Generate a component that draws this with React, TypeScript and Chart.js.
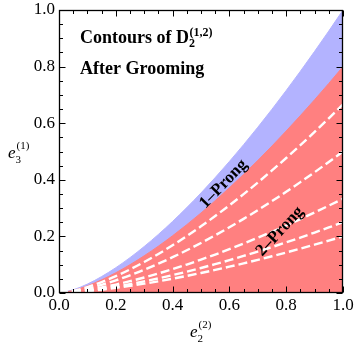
import { useEffect, useRef } from "react";
import { Chart, registerables } from "chart.js";

Chart.register(...registerables);

// Sample positions along e2^(2)
const xValues = [0, 0.05, 0.1, 0.15, 0.2, 0.25, 0.3, 0.35, 0.4, 0.45, 0.5, 0.55, 0.6, 0.65, 0.7, 0.75, 0.8, 0.85, 0.9, 0.95, 1];

// Upper edge of the 1-prong (blue) region
const oneProngUpper = [0, 0.0112, 0.0316, 0.0581, 0.0894, 0.125, 0.1643, 0.2071, 0.253, 0.3019, 0.3536, 0.4079, 0.4648, 0.5241, 0.5857, 0.6495, 0.7155, 0.7837, 0.8538, 0.9259, 1];
// Upper edge of the 2-prong (red) region
const twoProngUpper = [0, 0.0089, 0.0253, 0.0465, 0.0716, 0.1, 0.1315, 0.1656, 0.2024, 0.2415, 0.2828, 0.3263, 0.3718, 0.4192, 0.4685, 0.5196, 0.5724, 0.6269, 0.683, 0.7407, 0.8];

// Dashed contours of D2^(1,2)
const contourA = [0, 0.0075, 0.0211, 0.0387, 0.0596, 0.0833, 0.1095, 0.138, 0.1687, 0.2012, 0.2357, 0.2719, 0.3098, 0.3494, 0.3904, 0.433, 0.477, 0.5224, 0.5692, 0.6173, 0.6667];
const contourB = [0, 0.0056, 0.0158, 0.029, 0.0447, 0.0625, 0.0822, 0.1035, 0.1265, 0.1509, 0.1768, 0.2039, 0.2324, 0.262, 0.2928, 0.3248, 0.3578, 0.3918, 0.4269, 0.463, 0.5];
const contourC = [0, 0.0037, 0.0105, 0.0194, 0.0298, 0.0417, 0.0548, 0.069, 0.0843, 0.1006, 0.1179, 0.136, 0.1549, 0.1747, 0.1952, 0.2165, 0.2385, 0.2612, 0.2846, 0.3086, 0.3333];
const contourD = [0, 0.0028, 0.0079, 0.0145, 0.0224, 0.0313, 0.0411, 0.0518, 0.0632, 0.0755, 0.0884, 0.102, 0.1162, 0.131, 0.1464, 0.1624, 0.1789, 0.1959, 0.2135, 0.2315, 0.25];
const contourE = [0, 0.0022, 0.0063, 0.0116, 0.0179, 0.025, 0.0329, 0.0414, 0.0506, 0.0604, 0.0707, 0.0816, 0.093, 0.1048, 0.1171, 0.1299, 0.1431, 0.1567, 0.1708, 0.1852, 0.2];
const contours = [contourA, contourB, contourC, contourD, contourE];

const majorTicks = [0, 0.2, 0.4, 0.6, 0.8, 1];
const minorTicks = [0, 0.05, 0.1, 0.15, 0.2, 0.25, 0.3, 0.35, 0.4, 0.45, 0.5, 0.55, 0.6, 0.65, 0.7, 0.75, 0.8, 0.85, 0.9, 0.95, 1];

const regionLabels = [
  { text: "1\u2013Prong", x: 0.579, y: 0.385, angle: -46 },
  { text: "2\u2013Prong", x: 0.778, y: 0.218, angle: -47 },
];

const titleLines = ["Contours of ", "After Grooming"];
const titlePos = { x: 0.074, y1: 0.884, y2: 0.774 };

const BLUE = "#b3b3ff";
const RED = "#ff8080";
const SERIF = "'Liberation Serif', 'Times New Roman', serif";

const toPoints = (ys: number[]) => xValues.map((x, i) => ({ x, y: ys[i] }));

const decorPlugin = {
  id: "decor",
  afterDraw(chart: any) {
    const { ctx, chartArea: a, scales } = chart;
    const sx = scales.x;
    const sy = scales.y;
    ctx.save();
    ctx.strokeStyle = "#000";
    ctx.lineWidth = 1;
    const L = Math.round(a.left) + 0.5;
    const R = Math.round(a.right) - 0.5;
    const T = Math.round(a.top) + 0.5;
    const B = Math.round(a.bottom) - 0.5;
    ctx.beginPath();
    for (const t of minorTicks) {
      const major = majorTicks.some((m) => Math.abs(m - t) < 1e-9);
      const len = major ? 6 : 3.5;
      const px = Math.round(sx.getPixelForValue(t)) + 0.5;
      ctx.moveTo(px, B); ctx.lineTo(px, B - len);
      ctx.moveTo(px, T); ctx.lineTo(px, T + len);
      const py = Math.round(sy.getPixelForValue(t)) + 0.5;
      ctx.moveTo(L, py); ctx.lineTo(L + len, py);
      ctx.moveTo(R, py); ctx.lineTo(R - len, py);
    }
    ctx.stroke();
    ctx.lineWidth = 1.3;
    ctx.strokeRect(L, T, R - L, B - T);

    // Title
    ctx.fillStyle = "#000";
    ctx.textAlign = "left";
    ctx.textBaseline = "alphabetic";
    const tx = sx.getPixelForValue(titlePos.x);
    const ty1 = sy.getPixelForValue(titlePos.y1);
    const ty2 = sy.getPixelForValue(titlePos.y2);
    ctx.font = `bold 18px ${SERIF}`;
    ctx.fillText(titleLines[0], tx, ty1);
    let cx = tx + ctx.measureText(titleLines[0]).width;
    ctx.fillText("D", cx, ty1);
    cx += ctx.measureText("D").width;
    ctx.font = `bold 12px ${SERIF}`;
    ctx.fillText("2", cx, ty1 + 4.5);
    ctx.fillText("(1,2)", cx + 0.5, ty1 - 7);
    ctx.font = `bold 18px ${SERIF}`;
    ctx.fillText(titleLines[1], tx, ty2);

    // Region labels
    ctx.font = `bold 17px ${SERIF}`;
    ctx.textAlign = "center";
    ctx.textBaseline = "middle";
    for (const lab of regionLabels) {
      ctx.save();
      ctx.translate(sx.getPixelForValue(lab.x), sy.getPixelForValue(lab.y));
      ctx.rotate((lab.angle * Math.PI) / 180);
      ctx.fillText(lab.text, 0, 0);
      ctx.restore();
    }

    // Axis titles
    const drawSym = (x0: number, base: number, sub: string, sup: string) => {
      ctx.textAlign = "left";
      ctx.textBaseline = "alphabetic";
      ctx.font = `italic 17px ${SERIF}`;
      ctx.fillText("e", x0, base);
      const w = ctx.measureText("e").width;
      ctx.font = `11px ${SERIF}`;
      ctx.fillText(sub, x0 + w, base + 5);
      ctx.fillText(sup, x0 + w + 1, base - 9);
    };
    const midX = (a.left + a.right) / 2;
    drawSym(midX - 11, a.bottom + 44, "2", "(2)");
    drawSym(a.left - 51, (a.top + a.bottom) / 2 + 6, "3", "(1)");
    ctx.restore();
  },
};

const fixFit = (size: { width?: number; height?: number }) => (s: any) => {
  if (size.width !== undefined) s.width = size.width;
  if (size.height !== undefined) s.height = size.height;
  s.paddingTop = 0;
  s.paddingBottom = 0;
  s.paddingLeft = 0;
  s.paddingRight = 0;
};

export default function App() {
  const ref = useRef<HTMLCanvasElement | null>(null);
  useEffect(() => {
    if (!ref.current) return;
    const dashed = contours.map((c) => ({
      data: toPoints(c),
      borderColor: "#ffffff",
      borderWidth: 2.4,
      borderDash: [9, 4],
      fill: false,
      pointRadius: 0,
      cubicInterpolationMode: "monotone" as const,
      order: 1,
    }));
    const chart = new Chart(ref.current, {
      type: "line",
      data: {
        datasets: [
          ...dashed,
          {
            data: toPoints(twoProngUpper),
            borderColor: RED,
            backgroundColor: RED,
            borderWidth: 1,
            fill: "origin",
            pointRadius: 0,
            cubicInterpolationMode: "monotone",
            order: 2,
          },
          {
            data: toPoints(oneProngUpper),
            borderColor: BLUE,
            backgroundColor: BLUE,
            borderWidth: 1,
            fill: "origin",
            pointRadius: 0,
            cubicInterpolationMode: "monotone",
            order: 3,
          },
        ],
      } as any,
      options: {
        animation: false,
        responsive: false,
        layout: { padding: { left: 0, top: 10, right: 11, bottom: 0 } },
        plugins: { legend: { display: false }, tooltip: { enabled: false } },
        scales: {
          x: {
            type: "linear",
            min: 0,
            max: 1,
            grid: { display: false, drawTicks: false },
            border: { display: false },
            ticks: {
              stepSize: 0.2,
              autoSkip: false,
              maxRotation: 0,
              padding: 2,
              color: "#000",
              font: { family: SERIF, size: 17 },
              callback: (v: any) => Number(v).toFixed(1),
            },
            afterFit: fixFit({ height: 52 }),
          },
          y: {
            type: "linear",
            min: 0,
            max: 1,
            grid: { display: false, drawTicks: false },
            border: { display: false },
            ticks: {
              stepSize: 0.2,
              autoSkip: false,
              padding: 4,
              color: "#000",
              font: { family: SERIF, size: 17 },
              callback: (v: any) => Number(v).toFixed(1),
            },
            afterFit: fixFit({ width: 59 }),
          },
        },
      } as any,
      plugins: [decorPlugin],
    });
    return () => chart.destroy();
  }, []);
  return (
    <div style={{ position: "absolute", left: 0, top: 0, width: 354, height: 345 }}>
      <canvas ref={ref} width={354} height={345} style={{ display: "block" }} />
    </div>
  );
}
